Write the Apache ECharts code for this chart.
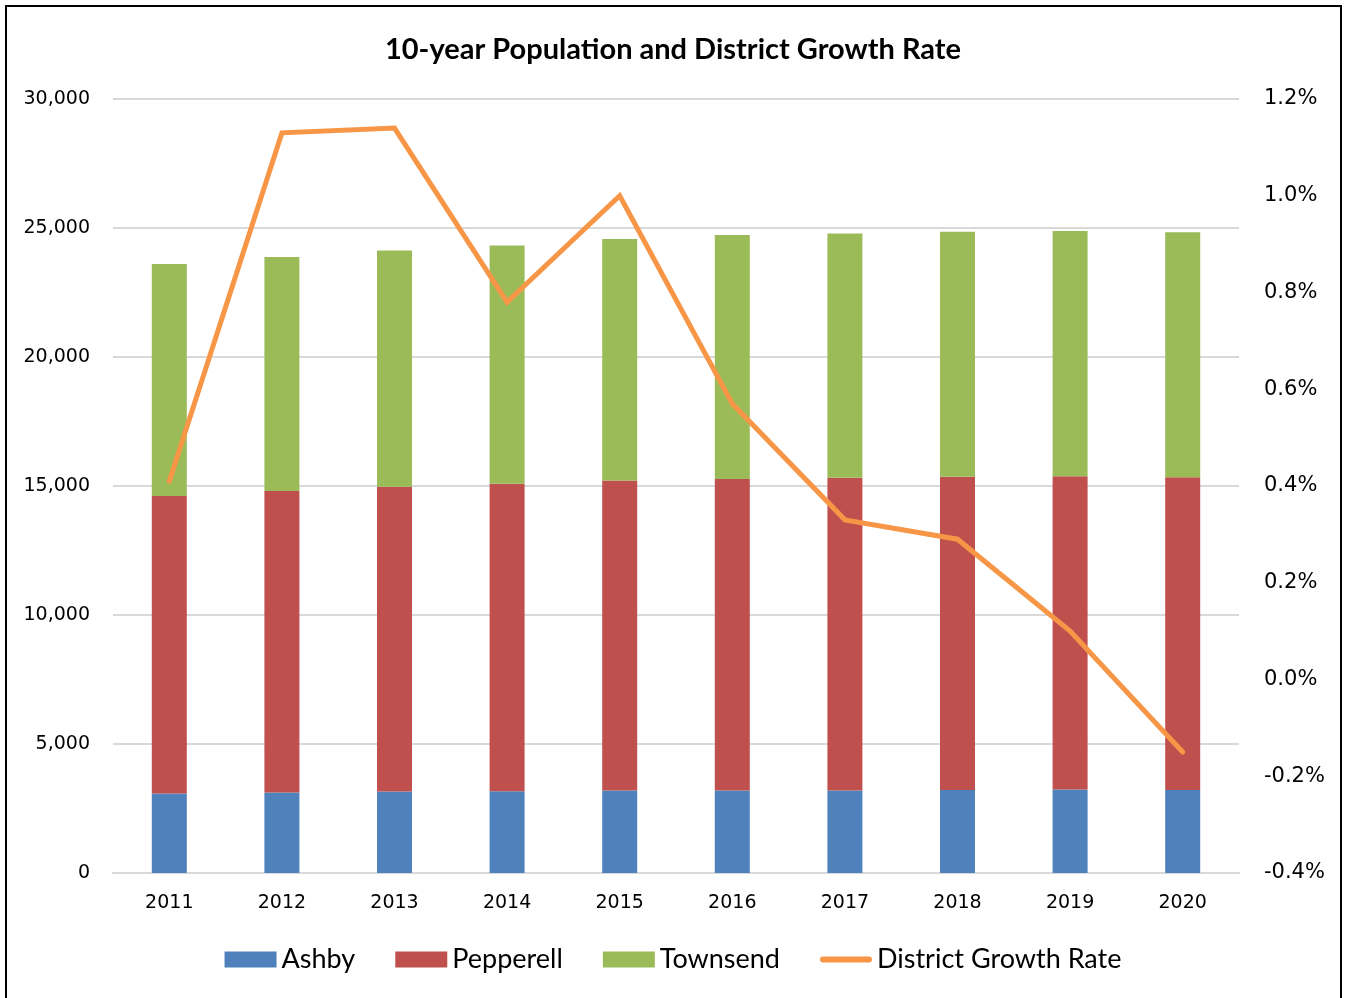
<!DOCTYPE html>
<html>
<head>
<meta charset="utf-8">
<script src="https://cdn.jsdelivr.net/npm/echarts@6/dist/echarts.min.js"></script>
<style>
  html, body { margin: 0; padding: 0; background: #fff; }
  #chart { width: 1346px; height: 998px; }
</style>
</head>
<body>
<div id="chart"></div>
<script>
// Town populations by year (stacked bars) and district growth rate in percent (line)
const years = ['2011', '2012', '2013', '2014', '2015', '2016', '2017', '2018', '2019', '2020'];
const ashby = [3080, 3120, 3155, 3170, 3195, 3195, 3195, 3220, 3235, 3220];
const pepperell = [11530, 11690, 11815, 11920, 12020, 12075, 12125, 12140, 12140, 12115];
const townsend = [8990, 9065, 9155, 9230, 9355, 9455, 9465, 9490, 9505, 9505];
const growthRate = [0.41, 1.13, 1.14, 0.78, 1.00, 0.57, 0.33, 0.29, 0.10, -0.15];

const chart = echarts.init(document.getElementById('chart'), null, { renderer: 'canvas' });

const axisFont = { fontFamily: 'DejaVu Sans', fontSize: 19, color: '#000' };
const gridLine = { lineStyle: { color: '#d9d9d9', width: 2 } };

// thin line with rounded ends for the growth-rate legend entry
const lineIcon = 'path://M3,0 H49 A3,3 0 0 1 49,6 H3 A3,3 0 0 1 3,0 Z';

const barSeries = (name, data, color) => ({
  name, type: 'bar', stack: 'pop', data, barWidth: 35,
  itemStyle: { color },
  emphasis: { disabled: true }
});

chart.setOption({
  animation: false,
  backgroundColor: '#fff',
  title: {
    text: '10-year Population and District Growth Rate',
    left: 'center', top: 30,
    textStyle: { fontFamily: 'Lato', fontWeight: 'bold', fontSize: 29, color: '#000' }
  },
  graphic: [{
    type: 'rect', silent: true, z: 100,
    shape: { x: 6, y: 6, width: 1335, height: 1010 },
    style: { fill: 'none', stroke: '#000', lineWidth: 2 }
  }],
  legend: {
    bottom: 20, left: 'center',
    itemWidth: 52, itemHeight: 16, itemGap: 40,
    symbolKeepAspect: true,
    textStyle: { fontFamily: 'Lato', fontSize: 27, color: '#000' },
    data: [
      { name: 'Ashby', icon: 'rect' },
      { name: 'Pepperell', icon: 'rect' },
      { name: 'Townsend', icon: 'rect' },
      { name: 'District Growth Rate', icon: lineIcon }
    ]
  },
  grid: { left: 113, right: 107, top: 99, bottom: 125, containLabel: false },
  xAxis: {
    type: 'category', data: years,
    axisLine: { lineStyle: { color: '#d9d9d9', width: 2 } },
    axisTick: { show: false },
    axisLabel: Object.assign({ margin: 21 }, axisFont)
  },
  yAxis: [{
    type: 'value', min: 0, max: 30000, interval: 5000,
    axisLine: { show: false }, axisTick: { show: false },
    splitLine: gridLine,
    axisLabel: Object.assign({
      margin: 23,
      formatter: v => v.toLocaleString('en-US')
    }, axisFont)
  }, {
    type: 'value', min: -0.4, max: 1.2, interval: 0.2,
    axisLine: { show: false }, axisTick: { show: false },
    splitLine: { show: false },
    axisLabel: Object.assign({
      margin: 25,
      formatter: v => v.toFixed(1) + '%'
    }, axisFont, { fontSize: 21 })
  }],
  series: [
    barSeries('Ashby', ashby, '#4F81BD'),
    barSeries('Pepperell', pepperell, '#C0504D'),
    barSeries('Townsend', townsend, '#9BBB59'),
    {
      name: 'District Growth Rate', type: 'line', yAxisIndex: 1,
      data: growthRate, symbol: 'none', z: 5,
      lineStyle: { color: '#F79646', width: 5, cap: 'round', join: 'miter' },
      itemStyle: { color: '#F79646' },
      emphasis: { disabled: true }
    }
  ]
});
</script>
</body>
</html>
